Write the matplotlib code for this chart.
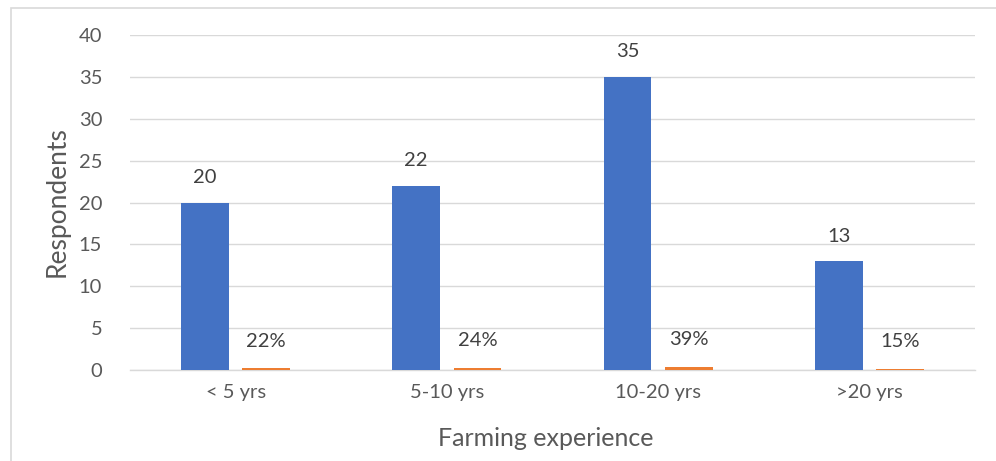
import matplotlib
matplotlib.use("Agg")
import matplotlib.pyplot as plt
from matplotlib.patches import Rectangle
import numpy as np

categories = ["< 5 yrs", "5-10 yrs", "10-20 yrs", ">20 yrs"]
respondents = [20, 22, 35, 13]
shares = [0.22, 0.24, 0.39, 0.15]
share_labels = ["22%", "24%", "39%", "15%"]
yticks = [0, 5, 10, 15, 20, 25, 30, 35, 40]

plt.rcParams["font.family"] = ["Lato", "DejaVu Sans"]

W, H = 996, 461
fig = plt.figure(figsize=(W / 100, H / 100), dpi=100)
ax = fig.add_axes([130 / W, 1 - 370 / H, (975 - 130) / W, (370 - 35) / H])

x = np.arange(len(categories))
bw = 0.227
off = 0.145
blue = "#4472C4"
orange = "#ED7D31"

ax.bar(x - off, respondents, bw, color=blue, zorder=3)
ax.bar(x + off, shares, bw, color=orange, zorder=3)

for xi, v in zip(x, respondents):
    ax.annotate(str(v), (xi - off, v), xytext=(0, 18), textcoords="offset points",
                ha="center", va="center", fontsize=14.5, color="#404040")
for xi, v, lab in zip(x, shares, share_labels):
    ax.annotate(lab, (xi + off, v), xytext=(0, 19.5), textcoords="offset points",
                ha="center", va="center", fontsize=14.5, color="#404040")

ax.set_xlim(-0.5, len(categories) - 0.5)
ax.set_ylim(0, 40)
ax.set_yticks(yticks)
ax.set_xticks(x)
ax.set_xticklabels(categories)
ax.yaxis.grid(True, color="#d9d9d9", linewidth=1.0, zorder=0)
ax.set_axisbelow(True)
for s in ["top", "right", "left"]:
    ax.spines[s].set_visible(False)
ax.spines["bottom"].set_color("#d9d9d9")
ax.spines["bottom"].set_linewidth(1.0)
ax.tick_params(axis="both", length=0, labelsize=14.5, labelcolor="#595959")
ax.tick_params(axis="y", pad=20)
ax.tick_params(axis="x", pad=10)

ax.set_xlabel("Farming experience", fontsize=18, color="#595959")
ax.set_ylabel("Respondents", fontsize=19, color="#595959")
ax.xaxis.set_label_coords((546 - 130) / (975 - 130), (370 - 427) / (370 - 35))
ax.yaxis.set_label_coords((70 - 130) / (975 - 130), (370 - 202) / (370 - 35))

fig.patches.append(Rectangle((10.5 / W, -0.1), 1.2, 1 - 7.5 / H + 0.1,
                             transform=fig.transFigure, fill=False,
                             edgecolor="#d9d9d9", linewidth=1.2))

fig.savefig("out.png", dpi=100)
